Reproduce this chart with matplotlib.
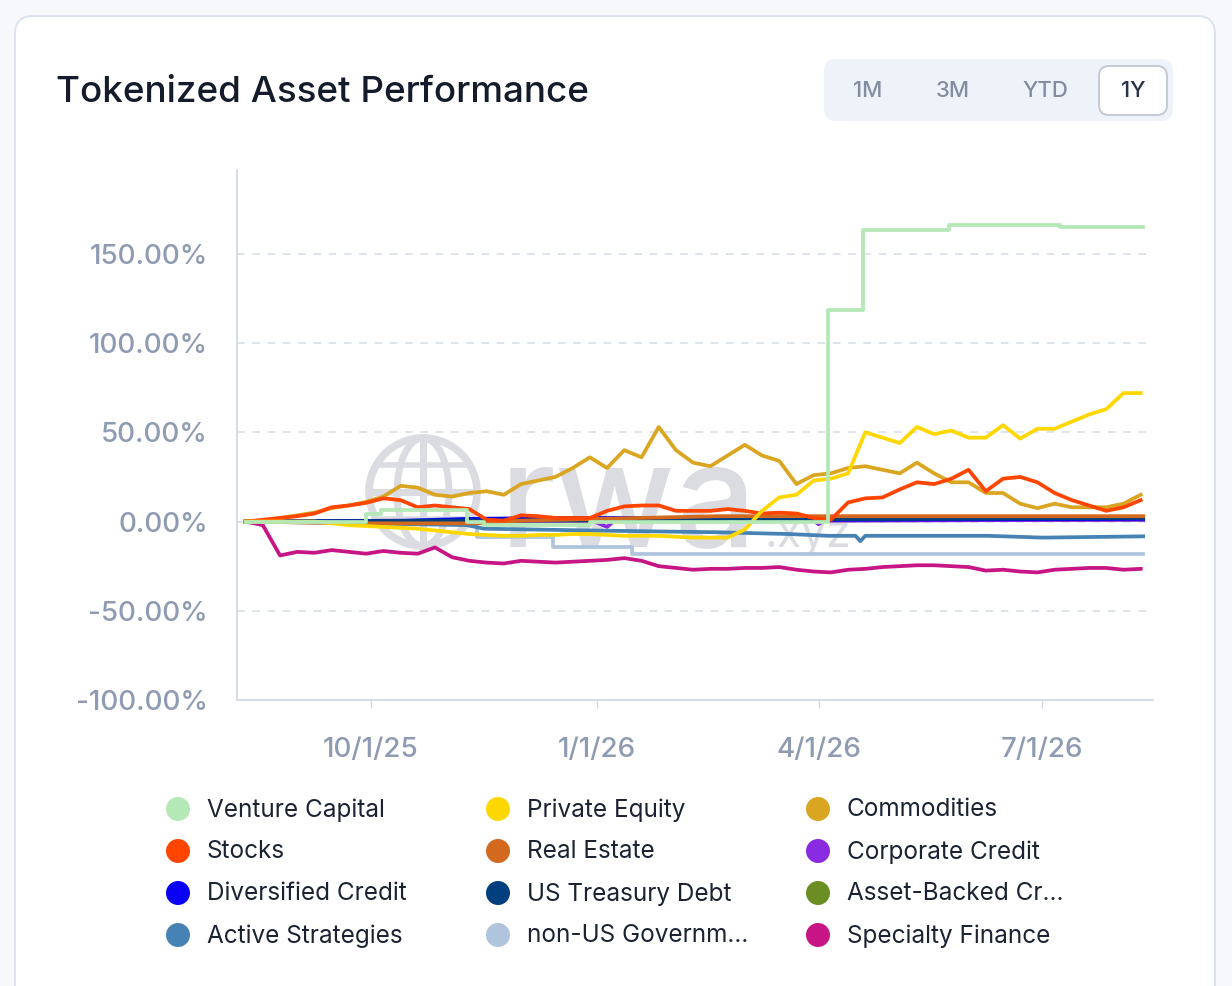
import matplotlib
matplotlib.use("Agg")
import matplotlib.pyplot as plt
from matplotlib.patches import FancyBboxPatch, Circle, Ellipse
import pandas as pd

plt.rcParams['font.family'] = ['Inter', 'DejaVu Sans']

# ---------------- data ----------------
weeks = pd.date_range("2025-08-11", periods=53, freq="7D")

commodities = [0, 0.5, 2, 3.5, 5, 7.5, 9, 11, 14, 20, 19, 15, 14, 16, 17, 15, 21, 23, 25, 30,
               36, 30, 40, 36, 53, 40, 33, 31, 37, 43, 37, 34, 21, 26, 27, 30, 31, 29, 27, 33,
               27, 22, 22, 16, 16, 10, 7.5, 10, 8, 8, 8, 10, 15]
stocks = [0, 1, 2, 3, 4.5, 8, 9, 10.5, 13, 12, 8, 9, 8, 7, 1, 0.5, 3.5, 3, 2, 2,
          2, 6, 8.5, 9, 9, 6, 6, 6, 7, 6, 4.5, 5, 4.5, 2, 1, 10.7, 13, 13.5, 18, 22,
          21, 24, 29, 17, 24, 25, 22, 16, 12, 9, 6, 8, 12]
private_equity = [0, 0, 0, 0, 0, -1, -2, -2.5, -3, -3.5, -4, -5, -6, -7, -7.5, -8, -8, -7.5, -7.5, -7,
                  -7, -7.5, -8, -8, -8, -8.5, -9, -9, -9, -4.5, 6, 13.5, 15, 23, 24, 27, 50, 47, 44, 53,
                  49, 51, 47, 47, 54, 46.5, 52, 52, 56, 60, 63, 72, 72]
specialty_finance = [0, -2, -19, -17, -17.5, -16, -17, -18, -16.5, -17.5, -18, -14.5, -20, -22, -23, -23.5,
                     -22, -22.5, -23, -22.5, -22, -21.5, -20.5, -22, -25, -26, -27, -26.5, -26.5, -26,
                     -26, -25.5, -27, -28, -28.5, -27, -26.5, -25.5, -25, -24.5, -24.5, -25, -25.5,
                     -27.5, -27, -28, -28.5, -27, -26.5, -26, -26, -27, -26.5]

vc_dates = ["2025-08-11", "2025-09-29", "2025-10-05", "2025-11-09", "2025-11-16", "2025-12-29",
            "2026-04-05", "2026-04-19", "2026-05-24", "2026-07-08", "2026-08-11"]
venture_capital = [0, 4.5, 6.5, 0, -2, 0, 118.5, 163.5, 166, 165, 165]

nonus_dates = ["2025-08-11", "2025-11-13", "2025-12-14", "2026-01-15", "2026-08-11"]
non_us_gov = [0, -8.5, -14, -18, -18]

re_dates = ["2025-08-11", "2025-09-29", "2025-11-13", "2025-12-01", "2026-02-19", "2026-08-11"]
real_estate = [0, -1, -1, 0.5, 3, 3]

as_dates = ["2025-08-11", "2025-09-29", "2025-11-09", "2025-11-16", "2025-12-29", "2026-02-19",
            "2026-03-20", "2026-04-05", "2026-04-16", "2026-04-18", "2026-04-20", "2026-06-09",
            "2026-07-01", "2026-08-11"]
active_strategies = [0, -1, -2, -4, -5, -6, -7, -8, -8, -11, -8, -8, -9, -8.3]

ust_dates = ["2025-08-11", "2026-02-01", "2026-08-11"]
us_treasury = [0, 1, 2]

dc_dates = ["2025-08-11", "2025-10-15", "2025-11-10", "2025-12-15", "2026-03-01", "2026-04-05", "2026-08-11"]
diversified_credit = [0, 0.5, 1.5, 2, 2, 1, 1.5]

cc_dates = ["2025-08-11", "2025-12-30", "2026-01-05", "2026-01-08", "2026-03-30", "2026-04-01",
            "2026-04-03", "2026-08-11"]
corporate_credit = [0, 0.5, -3, 0.5, 0.5, -1.5, 0.5, 1]

abc_dates = ["2025-08-11", "2026-08-11"]
asset_backed = [0, 1]

legend_names = ["Venture Capital", "Private Equity", "Commodities",
                "Stocks", "Real Estate", "Corporate Credit",
                "Diversified Credit", "US Treasury Debt", "Asset-Backed Cr…",
                "Active Strategies", "non-US Governm…", "Specialty Finance"]
legend_colors = ["#B4E8B6", "#FFD700", "#DAA520",
                 "#FF4500", "#D2691E", "#8A2BE2",
                 "#0A00F5", "#003F7D", "#6B8E23",
                 "#4682B4", "#B0C4DE", "#C71585"]

y_ticks = [-100, -50, 0, 50, 100, 150]
x_tick_dates = ["2025-10-01", "2026-01-01", "2026-04-01", "2026-07-01"]
x_tick_labels = ["10/1/25", "1/1/26", "4/1/26", "7/1/26"]

col = dict(zip(["vc", "pe", "com", "stk", "re", "cc", "dc", "ust", "abc", "as", "nug", "sf"], legend_colors))

# ---------------- figure ----------------
W, H = 1232, 986
fig = plt.figure(figsize=(W / 100, H / 100), dpi=100)
fig.patch.set_facecolor("#F6F8FC")

bg = fig.add_axes([0, 0, 1, 1], zorder=0)
bg.set_xlim(0, W)
bg.set_ylim(H, 0)
bg.axis("off")

# card
bg.add_patch(FancyBboxPatch((15, 16), 1200, 1010, boxstyle="round,pad=0,rounding_size=18",
                            facecolor="white", edgecolor="#DCE3EE", linewidth=1.4))
# title
bg.text(56, 92, "Tokenized Asset Performance", fontsize=26.5, fontweight="medium",
        color="#141B2B", ha="left", va="center")
# buttons
bg.add_patch(FancyBboxPatch((824, 59), 349, 62, boxstyle="round,pad=0,rounding_size=12",
                            facecolor="#EEF3FA", edgecolor="none"))
bg.add_patch(FancyBboxPatch((1099, 66), 68, 49, boxstyle="round,pad=0,rounding_size=10",
                            facecolor="white", edgecolor="#C3CAD6", linewidth=1.4))
for lbl, xc, c in [("1M", 868, "#838DA0"), ("3M", 953, "#838DA0"), ("YTD", 1045, "#838DA0"), ("1Y", 1133, "#2A3344")]:
    bg.text(xc, 91, lbl, fontsize=16, fontweight="medium", color=c, ha="center", va="center")

# watermark
wm = "#DADCE1"
bg.add_patch(Circle((423, 492), 54, facecolor="none", edgecolor=wm, linewidth=5.5))
bg.add_patch(Ellipse((423, 492), 52, 108, facecolor="none", edgecolor=wm, linewidth=5))
bg.plot([423, 423], [438, 546], color=wm, lw=5)
bg.plot([371, 475], [492, 492], color=wm, lw=5)
bg.plot([380, 466], [465, 465], color=wm, lw=4)
bg.plot([380, 466], [519, 519], color=wm, lw=4)
bg.text(500, 547, "rwa", fontsize=104, color=wm, ha="left", va="baseline", fontweight="medium")
bg.text(764, 547, ".xyz", fontsize=32, color=wm, ha="left", va="baseline")

# legend
col_x = [178, 498, 818]
row_y = [809, 851, 893, 935]
for i, (name, c) in enumerate(zip(legend_names, legend_colors)):
    r, k = divmod(i, 3)
    bg.add_patch(Circle((col_x[k], row_y[r]), 12, facecolor=c, edgecolor="none"))
    bg.text(col_x[k] + 29, row_y[r] + 1, name, fontsize=17.5, color="#1B2333", ha="left", va="center")

# ---------------- main chart ----------------
ax = fig.add_axes([237 / W, 1 - 700 / H, (1153 - 237) / W, (700 - 170) / H], zorder=1)
ax.patch.set_alpha(0)

def d(lst):
    return pd.to_datetime(lst)

lw = 2.7
ax.plot(weeks, specialty_finance, color=col["sf"], lw=lw)
ax.plot(d(nonus_dates), non_us_gov, color=col["nug"], lw=lw, drawstyle="steps-post")
ax.plot(d(as_dates), active_strategies, color=col["as"], lw=lw)
ax.plot(d(abc_dates), asset_backed, color=col["abc"], lw=lw)
ax.plot(d(cc_dates), corporate_credit, color=col["cc"], lw=lw)
ax.plot(d(dc_dates), diversified_credit, color=col["dc"], lw=lw)
ax.plot(d(ust_dates), us_treasury, color=col["ust"], lw=lw)
ax.plot(d(re_dates), real_estate, color=col["re"], lw=lw)
ax.plot(weeks, commodities, color=col["com"], lw=lw)
ax.plot(weeks, stocks, color=col["stk"], lw=lw)
ax.plot(weeks, private_equity, color=col["pe"], lw=lw)
ax.plot(d(vc_dates), venture_capital, color=col["vc"], lw=lw, drawstyle="steps-post")

ax.set_ylim(-100, 197)
ax.set_xlim(pd.Timestamp("2025-08-07 12:00"), pd.Timestamp("2026-08-15"))

for yv in y_ticks[1:]:
    ax.axhline(yv, color="#D3DCE7", lw=1.1, ls=(0, (5, 5)), zorder=0)

ax.set_yticks(y_ticks)
ax.set_yticklabels([f"{v:.2f}%" for v in y_ticks], fontweight="medium")
ax.set_xticks(pd.to_datetime(x_tick_dates))
ax.set_xticklabels(x_tick_labels, fontweight="medium")
ax.tick_params(axis="y", length=0, pad=21, labelsize=20, labelcolor="#8F9BB3")
ax.tick_params(axis="x", length=6, width=1, color="#D3DAE6", pad=21, labelsize=20, labelcolor="#8F9BB3")
for s in ["top", "right"]:
    ax.spines[s].set_visible(False)
for s in ["left", "bottom"]:
    ax.spines[s].set_color("#D3DAE6")
    ax.spines[s].set_linewidth(1.3)

fig.savefig("out.png", dpi=100, facecolor=fig.get_facecolor())
